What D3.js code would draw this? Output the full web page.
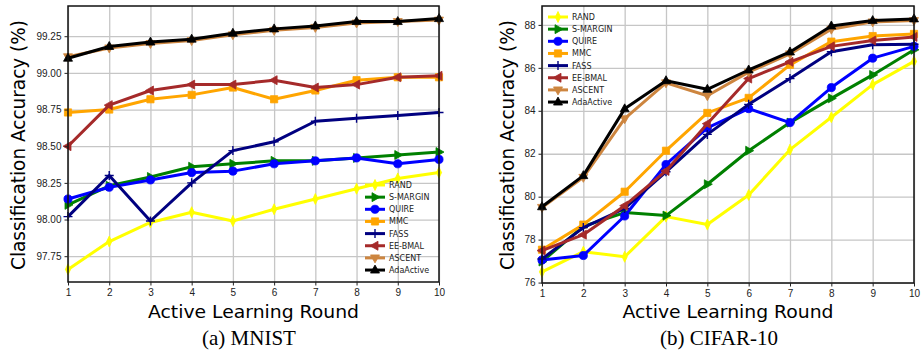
<!DOCTYPE html>
<html>
<head>
<meta charset="utf-8">
<script src="https://cdn.jsdelivr.net/npm/d3@7"></script>
<style>
  body { margin: 0; background: #fff; }
  svg { display: block; font-family: "DejaVu Sans", sans-serif; }
  .grid line { stroke: #c6c6c6; stroke-width: 1.3; }
  .grid path { display: none; }
  .axis text { font-size: 10px; fill: #222; }
  .axis line { stroke: #222; }
  .axis path { display: none; }
</style>
</head>
<body>
<svg id="chart" width="921" height="351"></svg>
<script>
const rounds = [1, 2, 3, 4, 5, 6, 7, 8, 9, 10];
const methods = ["RAND", "S-MARGIN", "QUIRE", "MMC", "FASS", "EE-BMAL", "ASCENT", "AdaActive"];

// MNIST accuracy (%)
const mnistRAND     = [97.66, 97.85, 97.98, 98.05, 97.99, 98.07, 98.14, 98.21, 98.28, 98.32];
const mnistSMARGIN  = [98.10, 98.23, 98.29, 98.36, 98.38, 98.40, 98.40, 98.42, 98.44, 98.46];
const mnistQUIRE    = [98.14, 98.22, 98.27, 98.32, 98.33, 98.38, 98.40, 98.42, 98.38, 98.41];
const mnistMMC      = [98.73, 98.75, 98.82, 98.85, 98.90, 98.82, 98.88, 98.95, 98.97, 98.97];
const mnistFASS     = [98.02, 98.30, 97.99, 98.25, 98.47, 98.53, 98.67, 98.69, 98.71, 98.73];
const mnistEEBMAL   = [98.50, 98.78, 98.88, 98.92, 98.92, 98.95, 98.90, 98.92, 98.97, 98.98];
const mnistASCENT   = [99.11, 99.17, 99.20, 99.22, 99.26, 99.29, 99.31, 99.34, 99.35, 99.36];
const mnistAdaActive= [99.10, 99.18, 99.21, 99.23, 99.27, 99.30, 99.32, 99.35, 99.35, 99.37];

// CIFAR-10 accuracy (%)
const cifarRAND     = [76.50, 77.44, 77.20, 79.07, 78.70, 80.08, 82.19, 83.70, 85.22, 86.30];
const cifarSMARGIN  = [76.98, 78.62, 79.26, 79.12, 80.58, 82.14, 83.45, 84.58, 85.67, 86.84];
const cifarQUIRE    = [77.05, 77.26, 79.10, 81.50, 83.20, 84.10, 83.45, 85.08, 86.45, 87.00];
const cifarMMC      = [77.53, 78.70, 80.23, 82.14, 83.90, 84.60, 86.14, 87.22, 87.48, 87.58];
const cifarFASS     = [77.10, 78.56, 79.45, 81.16, 82.90, 84.30, 85.50, 86.75, 87.08, 87.10];
const cifarEEBMAL   = [77.49, 78.23, 79.58, 81.20, 83.40, 85.50, 86.28, 87.00, 87.27, 87.44];
const cifarASCENT   = [79.50, 80.90, 83.63, 85.30, 84.70, 85.80, 86.65, 87.80, 88.14, 88.20];
const cifarAdaActive= [79.53, 80.98, 84.09, 85.40, 85.00, 85.90, 86.74, 87.95, 88.20, 88.28];

const mnistTicks = [97.75, 98.00, 98.25, 98.50, 98.75, 99.00, 99.25];
const cifarTicks = [76, 78, 80, 82, 84, 86, 88];

const colors = {
  "RAND": "#ffff00", "S-MARGIN": "#008000", "QUIRE": "#0000ff", "MMC": "#ffa500",
  "FASS": "#000080", "EE-BMAL": "#a52a2a", "ASCENT": "#cd853f", "AdaActive": "#000000"
};
const markers = {
  "RAND": "d", "S-MARGIN": ">", "QUIRE": "o", "MMC": "s",
  "FASS": "+", "EE-BMAL": "<", "ASCENT": "v", "AdaActive": "^"
};

function markerPath(m) {
  const s = 5;
  switch (m) {
    case "^": return `M0,${-s}L${s * 0.9},${s * 0.6}L${-s * 0.9},${s * 0.6}Z`;
    case "v": return `M0,${s}L${s * 0.9},${-s * 0.6}L${-s * 0.9},${-s * 0.6}Z`;
    case ">": return `M${s},0L${-s * 0.6},${s * 0.9}L${-s * 0.6},${-s * 0.9}Z`;
    case "<": return `M${-s},0L${s * 0.6},${s * 0.9}L${s * 0.6},${-s * 0.9}Z`;
    case "s": return "M-3.6,-3.6H3.6V3.6H-3.6Z";
    case "o": return d3.symbol(d3.symbolCircle, 52)();
    case "d": return "M0,-5.5L2.6,0L0,5.5L-2.6,0Z";
    case "+": return "M0,-4.5V4.5M-4.5,0H4.5";
  }
}

function drawMarker(g, m, col, x, y) {
  const p = g.append("path")
    .attr("d", markerPath(m))
    .attr("transform", `translate(${x},${y})`);
  if (m === "+") p.attr("fill", "none").attr("stroke", col).attr("stroke-width", 1.4);
  else p.attr("fill", col).attr("stroke", col).attr("stroke-width", 0.8);
}

const svg = d3.select("#chart");

function panel(cfg) {
  const x = d3.scaleLinear().domain([1, 10]).range([cfg.left, cfg.right]);
  const y = d3.scaleLinear().domain(cfg.yDomain).range([cfg.bottom, cfg.top]);
  const g = svg.append("g");

  // grid
  g.append("g").attr("class", "grid")
    .attr("transform", `translate(0,${cfg.bottom})`)
    .call(d3.axisBottom(x).tickValues(rounds).tickSize(-(cfg.bottom - cfg.top)).tickFormat(""));
  g.append("g").attr("class", "grid")
    .attr("transform", `translate(${cfg.left},0)`)
    .call(d3.axisLeft(y).tickValues(cfg.ticks).tickSize(-(cfg.right - cfg.left)).tickFormat(""));

  // lines
  cfg.series.forEach((vals, i) => {
    const name = methods[i];
    const pts = rounds.map((r, j) => [x(r), y(vals[j])]);
    g.append("path")
      .attr("d", d3.line()(pts))
      .attr("fill", "none")
      .attr("stroke", colors[name])
      .attr("stroke-width", 3)
      .attr("stroke-linejoin", "round");
    pts.forEach(p => drawMarker(g, markers[name], colors[name], p[0], p[1]));
  });

  // frame
  g.append("rect")
    .attr("x", cfg.left).attr("y", cfg.top)
    .attr("width", cfg.right - cfg.left).attr("height", cfg.bottom - cfg.top)
    .attr("fill", "none").attr("stroke", "#111").attr("stroke-width", 1.5);

  // axes
  g.append("g").attr("class", "axis")
    .attr("transform", `translate(0,${cfg.bottom})`)
    .call(d3.axisBottom(x).tickValues(rounds).tickSize(3.5).tickPadding(3).tickFormat(d3.format("d")));
  g.append("g").attr("class", "axis")
    .attr("transform", `translate(${cfg.left},0)`)
    .call(d3.axisLeft(y).tickValues(cfg.ticks).tickSize(3.5).tickPadding(3).tickFormat(d3.format(cfg.fmt)));

  // axis titles
  const cx = (cfg.left + cfg.right) / 2;
  g.append("text")
    .attr("x", cx).attr("y", 318)
    .attr("text-anchor", "middle")
    .attr("font-size", 18.5)
    .attr("textLength", 211).attr("lengthAdjust", "spacingAndGlyphs")
    .text("Active Learning Round");
  g.append("text")
    .attr("transform", `translate(${cfg.ylabelX},145) rotate(-90)`)
    .attr("text-anchor", "middle")
    .attr("font-size", 19)
    .attr("textLength", 250).attr("lengthAdjust", "spacingAndGlyphs")
    .text("Classification Accuracy (%)");
  g.append("text")
    .attr("x", cfg.capX).attr("y", 345)
    .attr("text-anchor", "middle")
    .attr("font-family", "Liberation Serif, serif")
    .attr("font-size", 21)
    .text(cfg.caption);

  // legend
  const lg = g.append("g");
  methods.forEach((name, i) => {
    const ly = cfg.legY + i * 12.15;
    lg.append("line")
      .attr("x1", cfg.legX).attr("x2", cfg.legX + 20)
      .attr("y1", ly).attr("y2", ly)
      .attr("stroke", colors[name]).attr("stroke-width", 3);
    drawMarker(lg, markers[name], colors[name], cfg.legX + 10, ly);
    lg.append("text")
      .attr("x", cfg.legX + 24).attr("y", ly + 2.9)
      .attr("font-size", 8).attr("fill", "#222")
      .text(name);
  });
}

panel({
  left: 68, right: 439, top: 6, bottom: 282,
  yDomain: [97.574, 99.456], ticks: mnistTicks, fmt: ".2f",
  series: [mnistRAND, mnistSMARGIN, mnistQUIRE, mnistMMC, mnistFASS, mnistEEBMAL, mnistASCENT, mnistAdaActive],
  ylabelX: 25, capX: 249, caption: "(a) MNIST",
  legX: 365, legY: 185
});

panel({
  left: 542, right: 914, top: 6, bottom: 283,
  yDomain: [75.98, 88.88], ticks: cifarTicks, fmt: "d",
  series: [cifarRAND, cifarSMARGIN, cifarQUIRE, cifarMMC, cifarFASS, cifarEEBMAL, cifarASCENT, cifarAdaActive],
  ylabelX: 514, capX: 719, caption: "(b) CIFAR-10",
  legX: 548, legY: 17
});
</script>
</body>
</html>
